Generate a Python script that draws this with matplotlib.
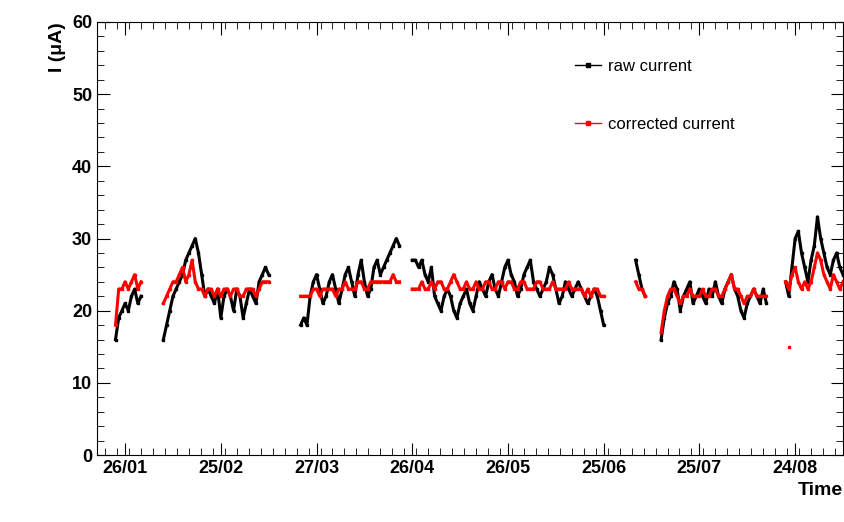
import matplotlib
matplotlib.use("Agg")
import matplotlib.pyplot as plt
from matplotlib.ticker import MultipleLocator
from matplotlib.lines import Line2D
import numpy as np

plt.rcParams['font.family'] = ['Liberation Sans', 'DejaVu Sans']

tick_days = [25, 55, 85, 115, 145, 175, 205, 235]
tick_labels = ["26/01", "25/02", "27/03", "26/04", "26/05", "25/06", "25/07", "24/08"]

seg_start = [22, 37, 80, 115, 185, 193, 232]
raw = [
    [16,19,20,21,20,22,23,21,22],
    [16,18,20,22,23,24,25,27,28,29,30,28,25,22,23,22,21,23,19,22,23,22,20,23,22,19,21,23,22,21,24,25,26,25],
    [18,19,18,22,24,25,23,21,22,24,25,23,21,23,25,26,24,22,25,27,24,22,23,26,27,25,26,27,28,29,30,29],
    [27,27,26,27,25,24,26,22,21,20,22,23,22,20,19,21,22,23,21,20,22,24,23,22,24,25,23,22,24,26,27,25,24,22,23,25,26,27,24,23,22,23,24,26,25,23,21,22,24,23,22,23,24,23,22,21,22,23,22,20,18],
    [27,25,23,22],
    [16,19,21,22,24,23,20,22,23,24,21,22,23,22,21,23,22,24,22,21,23,24,25,23,22,20,19,21,22,23,22,21,23,21],
    [24,22,26,30,31,28,26,24,27,29,33,30,28,26,25,27,28,26,25],
]
corr = [
    [18,23,23,24,23,24,25,23,24],
    [21,22,23,24,24,25,26,24,25,27,24,23,23,22,23,23,22,23,22,23,23,22,23,23,22,22,23,23,23,22,23,24,24,24],
    [22,22,22,22,23,23,22,23,23,23,23,22,23,23,24,23,23,23,24,24,23,23,24,24,24,24,24,24,24,25,24,24],
    [23,23,23,24,23,23,24,23,24,24,23,23,24,25,24,23,23,24,23,23,24,23,23,24,24,23,23,24,24,23,24,24,23,23,24,24,23,23,23,24,24,23,23,23,24,23,23,23,23,24,23,23,23,23,22,23,22,23,23,22,22],
    [24,23,23,22],
    [17,20,22,23,23,22,21,22,22,23,22,22,22,23,22,22,23,23,22,22,23,24,25,23,23,22,21,22,22,23,22,22,22,22],
    [24,23,25,26,24,23,24,23,24,26,28,27,25,24,23,25,24,23,24],
]
outlier_day = [233]
outlier_val = [15]

fig = plt.figure(figsize=(8.45, 5.22), dpi=100)
ax = fig.add_axes([97/845, 67/522, 746/845, 433/522])
for i, s in enumerate(seg_start):
    d = np.arange(s, s + len(raw[i]))
    ax.plot(d, raw[i], color="black", lw=2.2, marker="s", ms=1.5)
for i, s in enumerate(seg_start):
    d = np.arange(s, s + len(corr[i]))
    ax.plot(d, corr[i], color="red", lw=2.2, marker="s", ms=1.5)
ax.plot(outlier_day, outlier_val, "s", color="red", ms=2)

handles = [Line2D([], [], color="black", lw=1, marker="s", ms=2.5),
           Line2D([], [], color="red", lw=1, marker="s", ms=2.5)]
ax.legend(handles, ["raw current", "corrected current"], loc="upper left",
          bbox_to_anchor=(0.62, 0.95), frameon=False, fontsize=12,
          labelspacing=2.6, handlelength=1.6, handletextpad=0.4)

ax.set_xlim(16.2, 250)
ax.set_ylim(0, 60)
ax.set_xticks(tick_days)
ax.set_xticklabels(tick_labels, fontweight="bold", fontsize=13)
ax.xaxis.set_minor_locator(MultipleLocator(3.75))
ax.yaxis.set_major_locator(MultipleLocator(10))
ax.yaxis.set_minor_locator(MultipleLocator(2))
for t in ax.get_yticklabels():
    t.set_fontweight("bold"); t.set_fontsize(13)
ax.tick_params(which="major", length=9, direction="in", top=True, right=True)
ax.tick_params(which="minor", length=5, direction="in", top=True, right=True)
ax.set_ylabel("I (μA)", fontweight="bold", fontsize=14, loc="top")
ax.set_xlabel("Time", fontweight="bold", fontsize=14, loc="right")
fig.savefig("out.png")
